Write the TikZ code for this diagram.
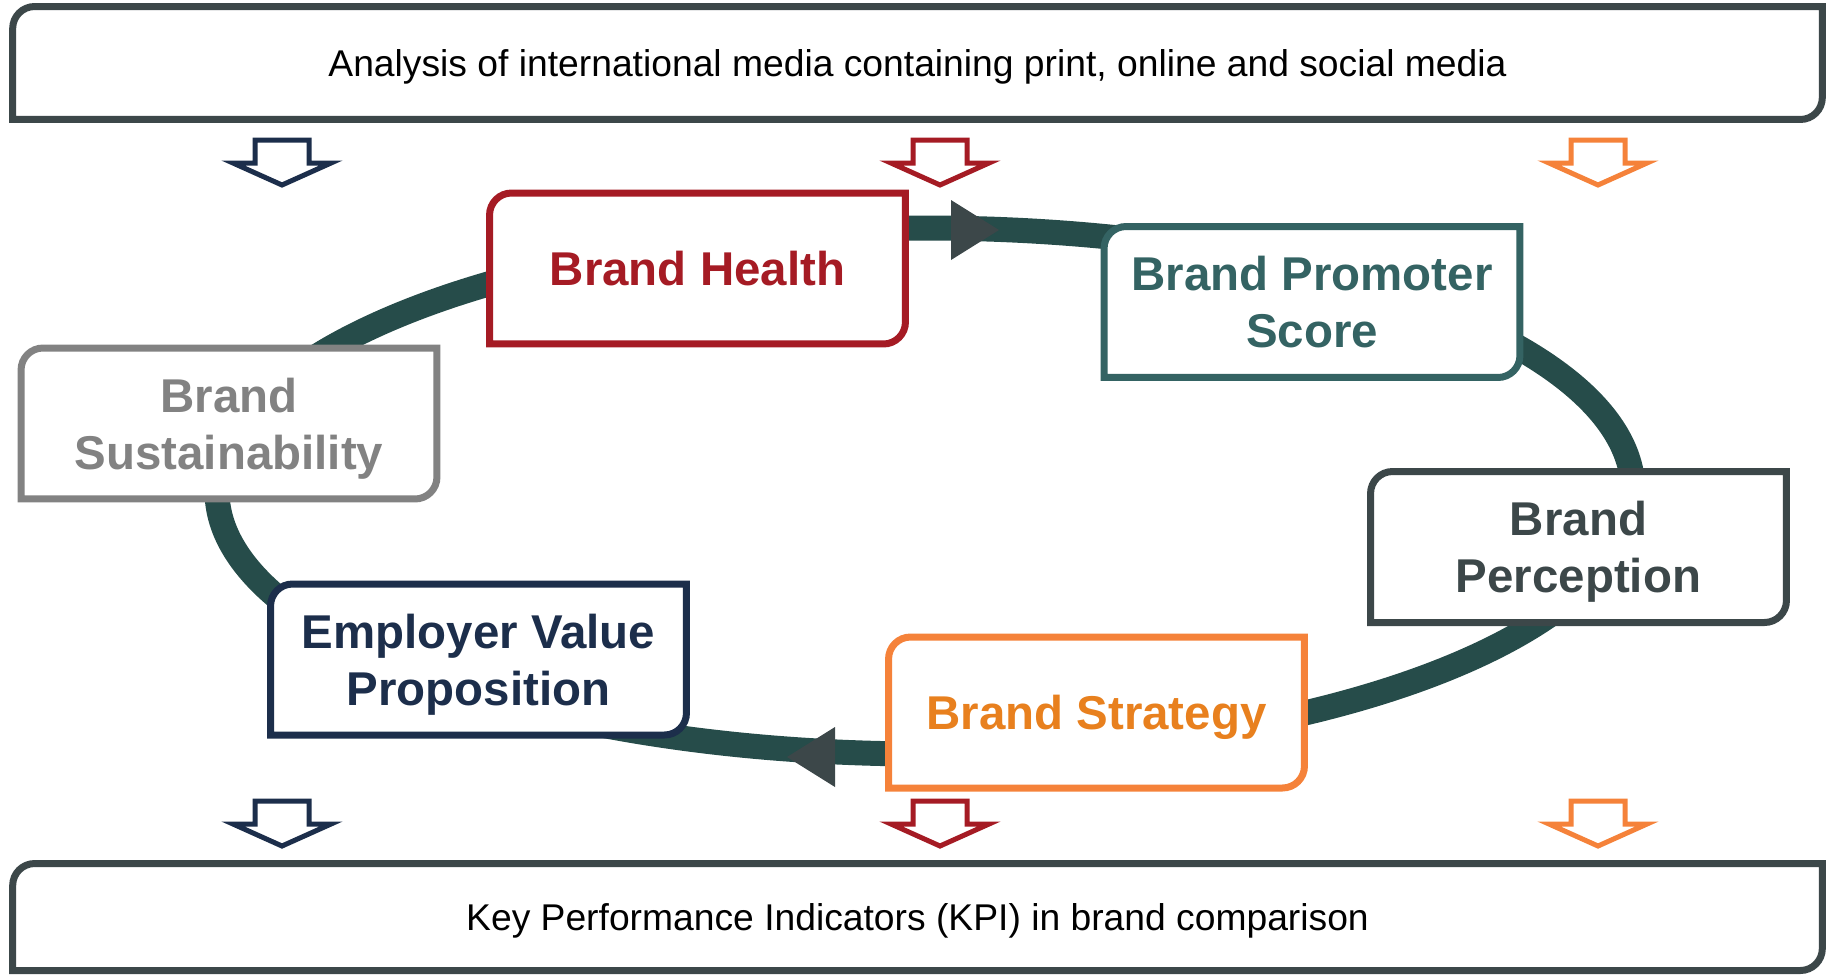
\documentclass[tikz,border=0pt]{standalone}
\usepackage{fontspec}
\setmainfont{Liberation Sans}
\usetikzlibrary{backgrounds}

\definecolor{kpired}{RGB}{165,27,36}
\definecolor{kpiteal}{RGB}{52,99,99}
\definecolor{kpislate}{RGB}{60,71,73}
\definecolor{kpiorange}{RGB}{245,130,58}
\definecolor{kpiorangetext}{RGB}{232,128,30}
\definecolor{kpinavy}{RGB}{28,46,75}
\definecolor{kpigray}{RGB}{130,130,130}
\definecolor{kpiring}{RGB}{38,76,74}

\tikzset{
  stage/.style={minimum width=8.32cm, minimum height=3.02cm, inner sep=0pt,
    outer sep=0pt, align=center, text depth=0pt,
    font=\fontsize{27}{32.4}\selectfont\bfseries},
  band/.style={minimum width=36.2cm, minimum height=2.26cm, inner sep=0pt,
    outer sep=0pt, text depth=0pt, font=\fontsize{21.2}{25}\selectfont},
  frame/.style={line width=0.14cm, fill=white},
  hollow/.style={line width=0.1cm, line join=miter, fill=white},
}

% frame with the top left and bottom right corners rounded
\newcommand\diagframe[2]{%
  \draw[#2,frame] ([yshift=-0.44cm]#1.north west)
    arc[start angle=180, end angle=90, radius=0.44cm] -- (#1.north east)
    -- ([yshift=0.44cm]#1.south east)
    arc[start angle=0, end angle=-90, radius=0.44cm] -- (#1.south west) -- cycle;}

\begin{document}
\begin{tikzpicture}[x=0.02cm, y=-0.02cm]
  \useasboundingbox (0,0) rectangle (1835,975);

  \node[band] (media) at (917.5,63)
    {Analysis of international media containing print, online and social media};
  \node[band, minimum height=2.14cm] (kpi) at (917.5,917)
    {Key Performance Indicators (KPI) in brand comparison};

  \node[stage, text=kpired] (health) at (697.5,268.5) {Brand Health};
  \node[stage, text=kpiteal] (promoter) at (1312,302) {Brand Promoter\\Score};
  \node[stage, text=kpislate] (perception) at (1578.5,547) {Brand\\Perception};
  \node[stage, text=kpiorangetext] (strategy) at (1096.5,712.5) {Brand Strategy};
  \node[stage, text=kpinavy] (evp) at (478.5,659.5) {Employer Value\\Proposition};
  \node[stage, text=kpigray] (sustain) at (229,423.5) {Brand\\Sustainability};

  \begin{scope}[on background layer]
    % the cycle
    \draw[line width=0.5cm, kpiring] (925,491) ellipse [x radius=708, y radius=263];
    \fill[kpislate] (951,200) -- (999,230) -- (951,260) -- cycle;
    \fill[kpislate] (835,727) -- (787,757) -- (835,787) -- cycle;

    \diagframe{media}{kpislate}
    \diagframe{kpi}{kpislate}
    \diagframe{health}{kpired}
    \diagframe{promoter}{kpiteal}
    \diagframe{perception}{kpislate}
    \diagframe{strategy}{kpiorange}
    \diagframe{evp}{kpinavy}
    \diagframe{sustain}{kpigray}
  \end{scope}

  % hollow arrows below the top band
  \draw[kpinavy, hollow] (255,140) -- ++(54,0) -- ++(0,23) -- ++(22,0) -- ++(-49,22)
    -- ++(-49,-22) -- ++(22,0) -- cycle;
  \draw[kpired, hollow] (913,140) -- ++(54,0) -- ++(0,23) -- ++(22,0) -- ++(-49,22)
    -- ++(-49,-22) -- ++(22,0) -- cycle;
  \draw[kpiorange, hollow] (1571,140) -- ++(54,0) -- ++(0,23) -- ++(22,0) -- ++(-49,22)
    -- ++(-49,-22) -- ++(22,0) -- cycle;

  % hollow arrows above the bottom band
  \draw[kpinavy, hollow] (255,801) -- ++(54,0) -- ++(0,23) -- ++(22,0) -- ++(-49,22)
    -- ++(-49,-22) -- ++(22,0) -- cycle;
  \draw[kpired, hollow] (913,801) -- ++(54,0) -- ++(0,23) -- ++(22,0) -- ++(-49,22)
    -- ++(-49,-22) -- ++(22,0) -- cycle;
  \draw[kpiorange, hollow] (1571,801) -- ++(54,0) -- ++(0,23) -- ++(22,0) -- ++(-49,22)
    -- ++(-49,-22) -- ++(22,0) -- cycle;
\end{tikzpicture}
\end{document}
